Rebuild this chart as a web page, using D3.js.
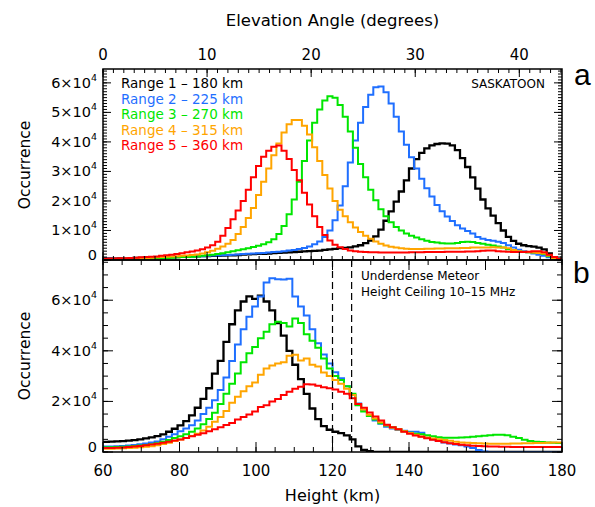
<!DOCTYPE html>
<html><head><meta charset="utf-8">
<script src="https://cdn.jsdelivr.net/npm/d3@7"></script>
<style>body{margin:0;background:#fff} text{font-family:"DejaVu Sans",sans-serif;fill:#000}</style>
</head><body><svg id="c" width="595" height="507"></svg>
<script>
// ---- data (occurrence in units of 10^4) ----
const elevStart = 0, elevStep = 0.49;  // panel a bins (degrees)
const hStart = 60, hStep = 1.5;        // panel b bins (km)
const seriesNames = ["Range 1 \u2013 180 km","Range 2 \u2013 225 km","Range 3 \u2013 270 km","Range 4 \u2013 315 km","Range 5 \u2013 360 km"];
const seriesColors = ["#000000","#1f6fff","#00e600","#ffa500","#ff0000"];

const aBlack = [0.05,0.05,0.05,0.06,0.06,0.06,0.07,0.07,0.07,0.08,
 0.08,0.09,0.09,0.10,0.10,0.11,0.11,0.12,0.12,0.13,
 0.13,0.14,0.14,0.15,0.16,0.16,0.17,0.18,0.19,0.20,
 0.21,0.21,0.22,0.23,0.24,0.25,0.26,0.27,0.28,0.29,
 0.30,0.31,0.32,0.34,0.36,0.38,0.40,0.41,0.43,0.46,
 0.50,0.57,0.66,0.80,1.03,1.33,1.65,1.98,2.32,2.70,
 3.10,3.42,3.63,3.78,3.88,3.93,3.95,3.94,3.88,3.72,
 3.45,3.15,2.80,2.42,2.05,1.75,1.50,1.25,1.00,0.78,
 0.65,0.55,0.50,0.47,0.45,0.42,0.36,0.22,0.10,0.03];
const aBlue = [0.04,0.05,0.05,0.05,0.06,0.06,0.07,0.07,0.08,0.08,
 0.09,0.09,0.10,0.10,0.11,0.11,0.12,0.12,0.13,0.13,
 0.14,0.15,0.15,0.16,0.17,0.18,0.19,0.20,0.21,0.22,
 0.23,0.24,0.25,0.27,0.28,0.30,0.32,0.34,0.37,0.41,
 0.46,0.53,0.63,0.78,1.00,1.35,1.85,2.50,3.30,4.05,
 4.65,5.18,5.60,5.85,5.88,5.68,5.30,4.85,4.35,3.90,
 3.48,3.10,2.75,2.43,2.15,1.86,1.65,1.47,1.32,1.18,
 1.07,0.98,0.90,0.78,0.72,0.68,0.65,0.62,0.58,0.50,
 0.42,0.35,0.30,0.26,0.22,0.18,0.14,0.09,0.04,0.01];
const aGreen = [0.02,0.02,0.03,0.03,0.03,0.04,0.04,0.04,0.05,0.05,
 0.06,0.06,0.07,0.08,0.09,0.10,0.10,0.11,0.12,0.14,
 0.16,0.18,0.20,0.23,0.26,0.30,0.33,0.36,0.40,0.44,
 0.48,0.53,0.60,0.70,0.88,1.15,1.55,2.05,2.65,3.35,
 4.05,4.65,5.10,5.40,5.55,5.50,5.25,4.85,4.35,3.80,
 3.25,2.80,2.38,2.02,1.72,1.48,1.28,1.12,1.00,0.90,
 0.82,0.76,0.70,0.65,0.61,0.59,0.57,0.56,0.56,0.58,
 0.61,0.62,0.61,0.58,0.55,0.52,0.49,0.46,0.42,0.36,
 0.30,0.28,0.27,0.26,0.25,0.24,0.20,0.13,0.06,0.02];
const aOrange = [0.03,0.03,0.04,0.04,0.05,0.05,0.06,0.06,0.07,0.08,
 0.09,0.10,0.11,0.12,0.13,0.14,0.15,0.17,0.19,0.22,
 0.26,0.31,0.38,0.46,0.55,0.68,0.88,1.12,1.42,1.76,
 2.20,2.65,3.10,3.55,3.95,4.32,4.60,4.74,4.74,4.55,
 4.25,3.82,3.35,2.88,2.42,2.00,1.70,1.48,1.28,1.10,
 0.95,0.82,0.72,0.63,0.55,0.49,0.45,0.42,0.40,0.38,
 0.37,0.37,0.37,0.38,0.38,0.39,0.39,0.40,0.40,0.40,
 0.41,0.41,0.42,0.42,0.42,0.42,0.43,0.42,0.42,0.40,
 0.34,0.30,0.28,0.26,0.25,0.24,0.22,0.15,0.07,0.02];
const aRed = [0.04,0.05,0.05,0.06,0.06,0.07,0.08,0.09,0.10,0.11,
 0.12,0.14,0.16,0.18,0.20,0.23,0.26,0.29,0.32,0.36,
 0.42,0.50,0.62,0.82,1.08,1.38,1.68,2.00,2.38,2.80,
 3.18,3.50,3.70,3.84,3.88,3.70,3.42,3.05,2.70,2.28,
 1.88,1.48,1.12,0.85,0.66,0.52,0.43,0.37,0.32,0.30,
 0.28,0.27,0.26,0.26,0.25,0.25,0.25,0.25,0.25,0.25,
 0.26,0.26,0.26,0.27,0.27,0.27,0.27,0.28,0.28,0.28,
 0.28,0.29,0.29,0.30,0.31,0.32,0.32,0.30,0.29,0.28,
 0.27,0.27,0.27,0.28,0.30,0.30,0.26,0.18,0.10,0.04];

const bBlack = [0.40,0.41,0.42,0.43,0.45,0.47,0.50,0.54,0.58,0.63,
 0.70,0.80,0.92,1.05,1.22,1.45,1.75,2.10,2.52,3.10,
 3.60,4.35,5.05,5.60,5.95,6.15,6.05,6.18,5.95,5.60,
 5.10,4.60,4.00,3.45,2.88,2.30,1.72,1.30,1.02,0.88,
 0.80,0.75,0.66,0.50,0.22,0.08,0.03,0,0,0,
 0,0,0,0,0,0,0,0,0,0,
 0,0,0,0,0,0,0,0,0,0,
 0,0,0,0,0,0,0,0,0,0];
const bBlue = [0.22,0.22,0.23,0.24,0.26,0.28,0.31,0.34,0.38,0.42,
 0.50,0.60,0.70,0.82,0.93,1.06,1.25,1.50,1.75,2.05,
 2.45,2.95,3.60,4.25,4.85,5.35,5.75,6.15,6.70,6.87,
 6.83,6.82,6.85,6.15,5.75,5.40,4.85,4.30,3.85,3.50,
 3.15,2.92,2.60,2.25,1.92,1.65,1.42,1.25,1.12,1.00,
 0.93,0.88,0.84,0.80,0.80,0.76,0.56,0.50,0.43,0.38,
 0.34,0.30,0.27,0.22,0.16,0.08,0.02,0,0,0,
 0,0,0,0,0,0,0,0,0,0];
const bGreen = [0.19,0.19,0.20,0.21,0.22,0.24,0.26,0.28,0.31,0.35,
 0.41,0.47,0.55,0.62,0.70,0.80,0.93,1.10,1.30,1.55,
 1.90,2.30,2.70,3.10,3.55,3.90,4.15,4.50,4.75,5.05,
 5.15,5.10,4.96,5.28,5.10,4.65,4.40,4.12,3.70,3.30,
 3.00,2.85,2.60,2.30,1.85,1.60,1.42,1.28,1.14,1.05,
 0.98,0.90,0.82,0.76,0.72,0.70,0.66,0.62,0.58,0.56,
 0.56,0.56,0.57,0.58,0.60,0.62,0.64,0.66,0.68,0.68,
 0.66,0.60,0.55,0.48,0.43,0.41,0.40,0.38,0.37,0.36];
const bOrange = [0.13,0.13,0.14,0.15,0.16,0.17,0.19,0.21,0.23,0.27,
 0.32,0.37,0.43,0.49,0.55,0.63,0.72,0.85,1.00,1.20,
 1.38,1.62,1.95,2.18,2.40,2.60,2.75,3.05,3.30,3.42,
 3.50,3.55,3.80,3.84,3.62,3.70,3.45,3.38,3.14,3.00,
 2.85,2.70,2.50,2.25,1.90,1.68,1.47,1.32,1.18,1.06,
 0.96,0.90,0.82,0.75,0.68,0.61,0.57,0.53,0.50,0.47,
 0.44,0.41,0.38,0.37,0.36,0.35,0.34,0.33,0.33,0.33,
 0.33,0.34,0.34,0.35,0.35,0.36,0.36,0.37,0.38,0.38];
const bRed = [0.16,0.16,0.17,0.18,0.20,0.22,0.24,0.27,0.30,0.33,
 0.37,0.41,0.45,0.49,0.55,0.62,0.68,0.74,0.82,0.90,
 0.98,1.07,1.15,1.28,1.38,1.48,1.60,1.78,1.85,2.00,
 2.10,2.25,2.38,2.50,2.58,2.68,2.67,2.62,2.56,2.52,
 2.47,2.38,2.30,2.12,1.90,1.75,1.56,1.40,1.25,1.08,
 0.98,0.90,0.80,0.72,0.65,0.60,0.54,0.48,0.43,0.39,
 0.35,0.32,0.29,0.27,0.25,0.24,0.23,0.22,0.22,0.21,
 0.21,0.20,0.20,0.20,0.20,0.20,0.20,0.20,0.20,0.20];

const elevTicks = [0,10,20,30,40];
const heightTicks = [60,80,100,120,140,160,180];
const yTicksA = [0,1,2,3,4,5,6];
const yTicksB = [0,2,4,6];
const ceilingLines = [120,125];

// ---- layout ----
const L=103, R=562, aT=69, aB=260, bT=260, bB=452;
const elevMax = 44.1;
const svg = d3.select("#c");
const xA = d3.scaleLinear().domain([0,elevMax]).range([L,R]);
const yA = d3.scaleLinear().domain([0,6.47]).range([aB,aT]);
const xB = d3.scaleLinear().domain([60,180]).range([L,R]);
const yB = d3.scaleLinear().domain([0,7.59]).range([bB,bT]);

svg.append("defs").call(d=>{
  d.append("clipPath").attr("id","ca").append("rect").attr("x",L).attr("y",aT).attr("width",R-L).attr("height",aB-aT);
  d.append("clipPath").attr("id","cb").append("rect").attr("x",L).attr("y",bT).attr("width",R-L).attr("height",bB-bT);
});

function stepPts(vals, start, step){
  const p = vals.map((v,i)=>[start+i*step, v]);
  p.push([start+vals.length*step, vals[vals.length-1]]);
  return p;
}
function drawSeries(g, list, start, step, x, y){
  const line = d3.line().x(d=>x(d[0])).y(d=>y(d[1])).curve(d3.curveStepAfter);
  list.forEach((vals,k)=>{
    g.append("path").attr("d", line(stepPts(vals,start,step)))
      .attr("fill","none").attr("stroke",seriesColors[k])
      .attr("stroke-width", k===0?2.3:2).attr("stroke-linejoin","miter");
  });
}
drawSeries(svg.append("g").attr("clip-path","url(#ca)"), [aBlack,aBlue,aGreen,aOrange,aRed], elevStart, elevStep, xA, yA);
drawSeries(svg.append("g").attr("clip-path","url(#cb)"), [bBlack,bBlue,bGreen,bOrange,bRed], hStart, hStep, xB, yB);

// dashed ceiling lines
svg.append("g").selectAll("line").data(ceilingLines).join("line")
  .attr("x1",d=>xB(d)).attr("x2",d=>xB(d)).attr("y1",bT).attr("y2",bB)
  .attr("stroke","#000").attr("stroke-width",1.2).attr("stroke-dasharray","7,4");

// ---- ticks ----
const tk = svg.append("g").attr("stroke","#000").attr("stroke-width",1);
function xticks(scale, vals, y0, dir, len){
  vals.forEach(v=>tk.append("line").attr("x1",scale(v)).attr("x2",scale(v)).attr("y1",y0).attr("y2",y0+dir*len));
}
function yticks(scale, vals, len){
  vals.forEach(v=>{
    tk.append("line").attr("y1",scale(v)).attr("y2",scale(v)).attr("x1",L).attr("x2",L+len);
    tk.append("line").attr("y1",scale(v)).attr("y2",scale(v)).attr("x1",R).attr("x2",R-len);
  });
}
const elevMinor = d3.range(0,elevMax,1), hMinor = d3.range(60,181,5);
xticks(xA, elevMinor, aT, 1, 4); xticks(xA, elevTicks, aT, 1, 8);
xticks(xA, elevMinor, aB, -1, 4); xticks(xA, elevTicks, aB, -1, 8);
xticks(xB, hMinor, bT, 1, 5); xticks(xB, heightTicks, bT, 1, 10);
xticks(xB, hMinor, bB, -1, 5); xticks(xB, heightTicks, bB, -1, 10);
yticks(yA, d3.range(0,6.47,0.1), 4); yticks(yA, yTicksA, 8);
yticks(yB, d3.range(0,7.59,0.5), 5); yticks(yB, yTicksB, 10);

// boxes
svg.append("rect").attr("x",L).attr("y",aT).attr("width",R-L).attr("height",aB-aT).attr("fill","none").attr("stroke","#000").attr("stroke-width",1.5);
svg.append("rect").attr("x",L).attr("y",bT).attr("width",R-L).attr("height",bB-bT).attr("fill","none").attr("stroke","#000").attr("stroke-width",1.5);

// ---- labels ----
const fs = 15;
elevTicks.forEach(v=>svg.append("text").attr("x",xA(v)).attr("y",60).attr("text-anchor","middle").attr("font-size",fs).text(v));
heightTicks.forEach(v=>svg.append("text").attr("x",xB(v)).attr("y",476).attr("text-anchor","middle").attr("font-size",fs).text(v));
function ylab(v, y){
  const t = svg.append("text").attr("x",97).attr("y",v===0 ? y : y+5).attr("text-anchor","end").attr("font-size",14.5);
  if(v===0){ t.text("0"); return; }
  t.append("tspan").text(v+"\u00d710");
  t.append("tspan").attr("font-size",9.5).attr("dy",-7).text("4");
}
yTicksA.forEach(v=>ylab(v, yA(v)));
yTicksB.forEach(v=>ylab(v, yB(v)));

svg.append("text").attr("x",(L+R)/2).attr("y",26).attr("text-anchor","middle").attr("font-size",16.5).text("Elevation Angle (degrees)");
svg.append("text").attr("x",(L+R)/2).attr("y",501).attr("text-anchor","middle").attr("font-size",16).text("Height (km)");
svg.append("text").attr("transform","translate(30,165) rotate(-90)").attr("text-anchor","middle").attr("font-size",15.5).text("Occurrence");
svg.append("text").attr("transform","translate(30,356) rotate(-90)").attr("text-anchor","middle").attr("font-size",15.5).text("Occurrence");

svg.append("text").attr("x",574).attr("y",85).attr("font-size",30).style("font-family","Liberation Sans, Arial, sans-serif").text("a");
svg.append("text").attr("x",573).attr("y",283).attr("font-size",30).style("font-family","Liberation Sans, Arial, sans-serif").text("b");
svg.append("text").attr("x",545).attr("y",88).attr("text-anchor","end").attr("font-size",12).text("SASKATOON");

seriesNames.forEach((n,k)=>svg.append("text").attr("x",121).attr("y",88+k*15.5).attr("font-size",13.5)
  .style("fill",seriesColors[k]).text(n));

svg.append("text").attr("x",361).attr("y",280).attr("font-size",12).text("Underdense Meteor");
svg.append("text").attr("x",361).attr("y",296).attr("font-size",12).text("Height Ceiling 10\u201315 MHz");
</script></body></html>
